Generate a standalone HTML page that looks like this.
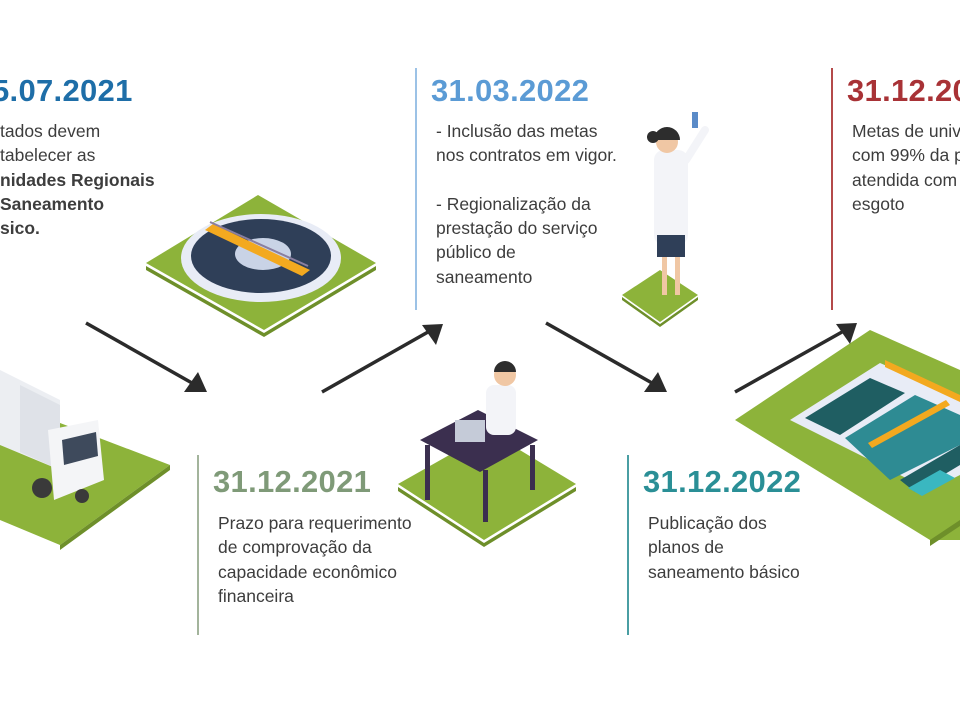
<!DOCTYPE html>
<html><head><meta charset="utf-8"><style>
html,body{margin:0;width:960px;height:720px;overflow:hidden}
body{background:#fff;position:relative;font-family:"Liberation Sans",sans-serif;}
.d{position:absolute;font-weight:bold;font-size:31px;letter-spacing:0.3px;white-space:nowrap}
.t{position:absolute;font-size:17.5px;line-height:24.3px;color:#3d3d3d;white-space:nowrap}
.v{position:absolute;width:2px}
.clip{position:absolute;overflow:hidden;top:0;height:720px}
svg{position:absolute;left:0;top:0}
</style></head><body>
<svg width="960" height="720">
<polygon points="146,266 264,333 376,266 376,270 264,337 146,270" fill="#6e8f2a"/>
<polygon points="146,263 258,195 376,263 264,330" fill="#8db33a"/>
<ellipse cx="261" cy="258" rx="80" ry="44" fill="#e8ecf6"/>
<ellipse cx="261" cy="256" rx="70" ry="37" fill="#2f3f58"/>
<ellipse cx="263" cy="254" rx="28" ry="16" fill="#c9d3e6"/>
<polygon points="205,230 213,224 310,270 302,276" fill="#f3a91f"/>
<line x1="210" y1="222" x2="308" y2="266" stroke="#8a7fa0" stroke-width="2"/>
<polygon points="0,400 170,465 60,545 0,520" fill="#8db33a"/>
<polygon points="60,545 170,465 170,470 60,550" fill="#6e8f2a"/>
<polygon points="0,370 60,400 60,470 0,445" fill="#eceef2"/>
<polygon points="20,385 60,405 60,470 20,452" fill="#dfe2e8"/>
<polygon points="48,430 98,420 104,480 54,500" fill="#f4f5f7"/>
<polygon points="62,440 96,432 98,456 64,465" fill="#3e4a5c"/>
<circle cx="42" cy="488" r="10" fill="#3a3a3a"/><circle cx="82" cy="496" r="7" fill="#3a3a3a"/>
<polygon points="398,487 484,543 576,487 576,491 484,547 398,491" fill="#6e8f2a"/>
<polygon points="398,484 490,432 576,484 484,540" fill="#8db33a"/>
<polygon points="420,440 478,410 538,440 480,472" fill="#3b2f4f"/>
<rect x="425" y="445" width="5" height="55" fill="#3b2f4f"/><rect x="483" y="470" width="5" height="52" fill="#3b2f4f"/><rect x="530" y="445" width="5" height="45" fill="#3b2f4f"/>
<rect x="486" y="385" width="30" height="50" rx="8" fill="#f3f4f8"/>
<circle cx="505" cy="375" r="11" fill="#f0c7a4"/><path d="M494,372 a11,11 0 0 1 22,0 z" fill="#2d2d2d"/>
<rect x="455" y="420" width="30" height="22" fill="#c5cbd8"/>
<polygon points="622,297 660,324 698,297 698,300 660,327 622,300" fill="#6e8f2a"/>
<polygon points="622,295 660,270 698,295 660,322" fill="#8db33a"/>
<rect x="654" y="150" width="34" height="95" rx="10" fill="#f3f4f8"/>
<rect x="657" y="235" width="28" height="22" fill="#2f3f58"/>
<rect x="662" y="257" width="5" height="38" fill="#f0c7a4"/><rect x="675" y="257" width="5" height="38" fill="#f0c7a4"/>
<circle cx="667" cy="142" r="11" fill="#f0c7a4"/><path d="M654,140 a13,13 0 0 1 26,0 z" fill="#2d2d2d"/><circle cx="653" cy="137" r="6" fill="#2d2d2d"/>
<line x1="686" y1="160" x2="705" y2="130" stroke="#f3f4f8" stroke-width="8" stroke-linecap="round"/>
<rect x="692" y="112" width="6" height="16" fill="#5a8bc8"/>
<polygon points="735,420 870,330 960,370 960,540 930,540" fill="#8db33a"/>
<polygon points="930,540 960,520 960,526 930,546" fill="#6e8f2a"/>
<polygon points="790,420 880,363 960,398 960,475 930,490" fill="#e8ecf6"/>
<polygon points="805,418 870,378 905,393 840,435" fill="#1f5e62"/>
<polygon points="845,438 915,395 960,415 960,445 890,480" fill="#2e8b93"/>
<polygon points="900,480 960,445 960,465 915,492" fill="#1f5e62"/>
<polygon points="868,443 946,400 950,405 872,448" fill="#f3a91f"/>
<polygon points="885,360 960,395 960,402 885,367" fill="#f3a91f"/>
<polygon points="908,488 940,470 955,478 922,496" fill="#3ab7c0"/>
<g stroke="#2b2b2b" stroke-width="3.5" fill="none">
<line x1="86" y1="323" x2="192" y2="383"/><line x1="322" y1="392" x2="428" y2="332"/>
<line x1="546" y1="323" x2="652" y2="383"/><line x1="735" y1="392" x2="842" y2="332"/>
</g>
<g fill="#2b2b2b">
<polygon points="207,392 184,392 198,372"/>
<polygon points="443,324 436,345 422,325"/>
<polygon points="667,392 644,392 658,372"/>
<polygon points="857,323 850,344 836,324"/>
</g>
</svg>
<div class="v" style="left:415px;top:68px;height:242px;background:#9cc2e6"></div>
<div class="v" style="left:831px;top:68px;height:242px;background:#b44a4a"></div>
<div class="v" style="left:197px;top:455px;height:180px;background:#a3b49c"></div>
<div class="v" style="left:627px;top:455px;height:180px;background:#4a9ea3"></div>

<div class="clip" style="left:0;width:200px">
<div class="d" style="left:-8px;top:73px;color:#1e6ea8">5.07.2021</div>
<div class="t" style="left:0;top:119px">tados devem<br>tabelecer as<br><b>nidades Regionais</b><br><b>Saneamento</b><br><b>sico.</b></div>
</div>
<div class="d" style="left:431px;top:73px;color:#5b9bd5">31.03.2022</div>
<div class="t" style="left:436px;top:119px">- Inclusão das metas<br>nos contratos em vigor.<br><br>- Regionalização da<br>prestação do serviço<br>público de<br>saneamento</div>
<div class="clip" style="left:840px;width:120px">
<div class="d" style="left:7px;top:73px;color:#a83236">31.12.2033</div>
<div class="t" style="left:12px;top:119px">Metas de universalização<br>com 99% da população<br>atendida com água e<br>esgoto</div>
</div>
<div class="d" style="left:213px;top:464px;color:#7f9a78">31.12.2021</div>
<div class="t" style="left:218px;top:511px">Prazo para requerimento<br>de comprovação da<br>capacidade econômico<br>financeira</div>
<div class="d" style="left:643px;top:464px;color:#2a8f96">31.12.2022</div>
<div class="t" style="left:648px;top:511px">Publicação dos<br>planos de<br>saneamento básico</div>
</body></html>
